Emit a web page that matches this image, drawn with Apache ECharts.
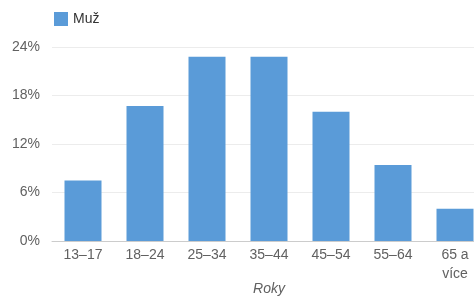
<!DOCTYPE html>
<html>
<head>
<meta charset="utf-8">
<script src="https://cdn.jsdelivr.net/npm/echarts@6/dist/echarts.min.js"></script>
<style>
  html, body { margin: 0; padding: 0; background: #fff; }
  #chart { width: 474px; height: 296px; }
</style>
</head>
<body>
<div id="chart"></div>
<script>
  // age groups and share of men
  const categories = ['13–17', '18–24', '25–34', '35–44', '45–54', '55–64', '65 a\nvíce'];
  const muz = [7.5, 16.7, 22.8, 22.8, 16.0, 9.4, 4.0];
  const yTicks = { min: 0, max: 24, interval: 6 };

  const chart = echarts.init(document.getElementById('chart'));
  const labelColor = '#616161';

  chart.setOption({
    animation: false,
    textStyle: { fontFamily: 'Liberation Sans, Arial, sans-serif' },
    legend: {
      left: 49,
      top: 7,
      itemWidth: 14,
      itemHeight: 14,
      itemGap: 6,
      icon: 'rect',
      textStyle: { color: '#333', fontSize: 14 },
      data: ['Muž']
    },
    grid: {
      left: 52,
      right: -12,
      top: 47,
      bottom: 55,
      outerBoundsMode: 'none'
    },
    xAxis: {
      type: 'category',
      data: categories,
      name: 'Roky',
      nameLocation: 'middle',
      nameGap: 41,
      nameMoveOverlap: false,
      nameTextStyle: { color: labelColor, fontStyle: 'italic', fontSize: 14 },
      axisLine: { show: true, lineStyle: { color: '#ccc' } },
      axisTick: { show: false },
      axisLabel: { color: labelColor, fontSize: 14, margin: 5, lineHeight: 19 }
    },
    yAxis: {
      type: 'value',
      min: yTicks.min,
      max: yTicks.max,
      interval: yTicks.interval,
      axisLine: { show: false },
      axisTick: { show: false },
      axisLabel: { color: labelColor, fontSize: 14, margin: 12, formatter: '{value}%' },
      splitLine: { lineStyle: { color: '#ececec' } }
    },
    series: [
      {
        name: 'Muž',
        type: 'bar',
        barWidth: 37,
        itemStyle: { color: '#5a9bd8' },
        data: muz
      }
    ]
  });
</script>
</body>
</html>
